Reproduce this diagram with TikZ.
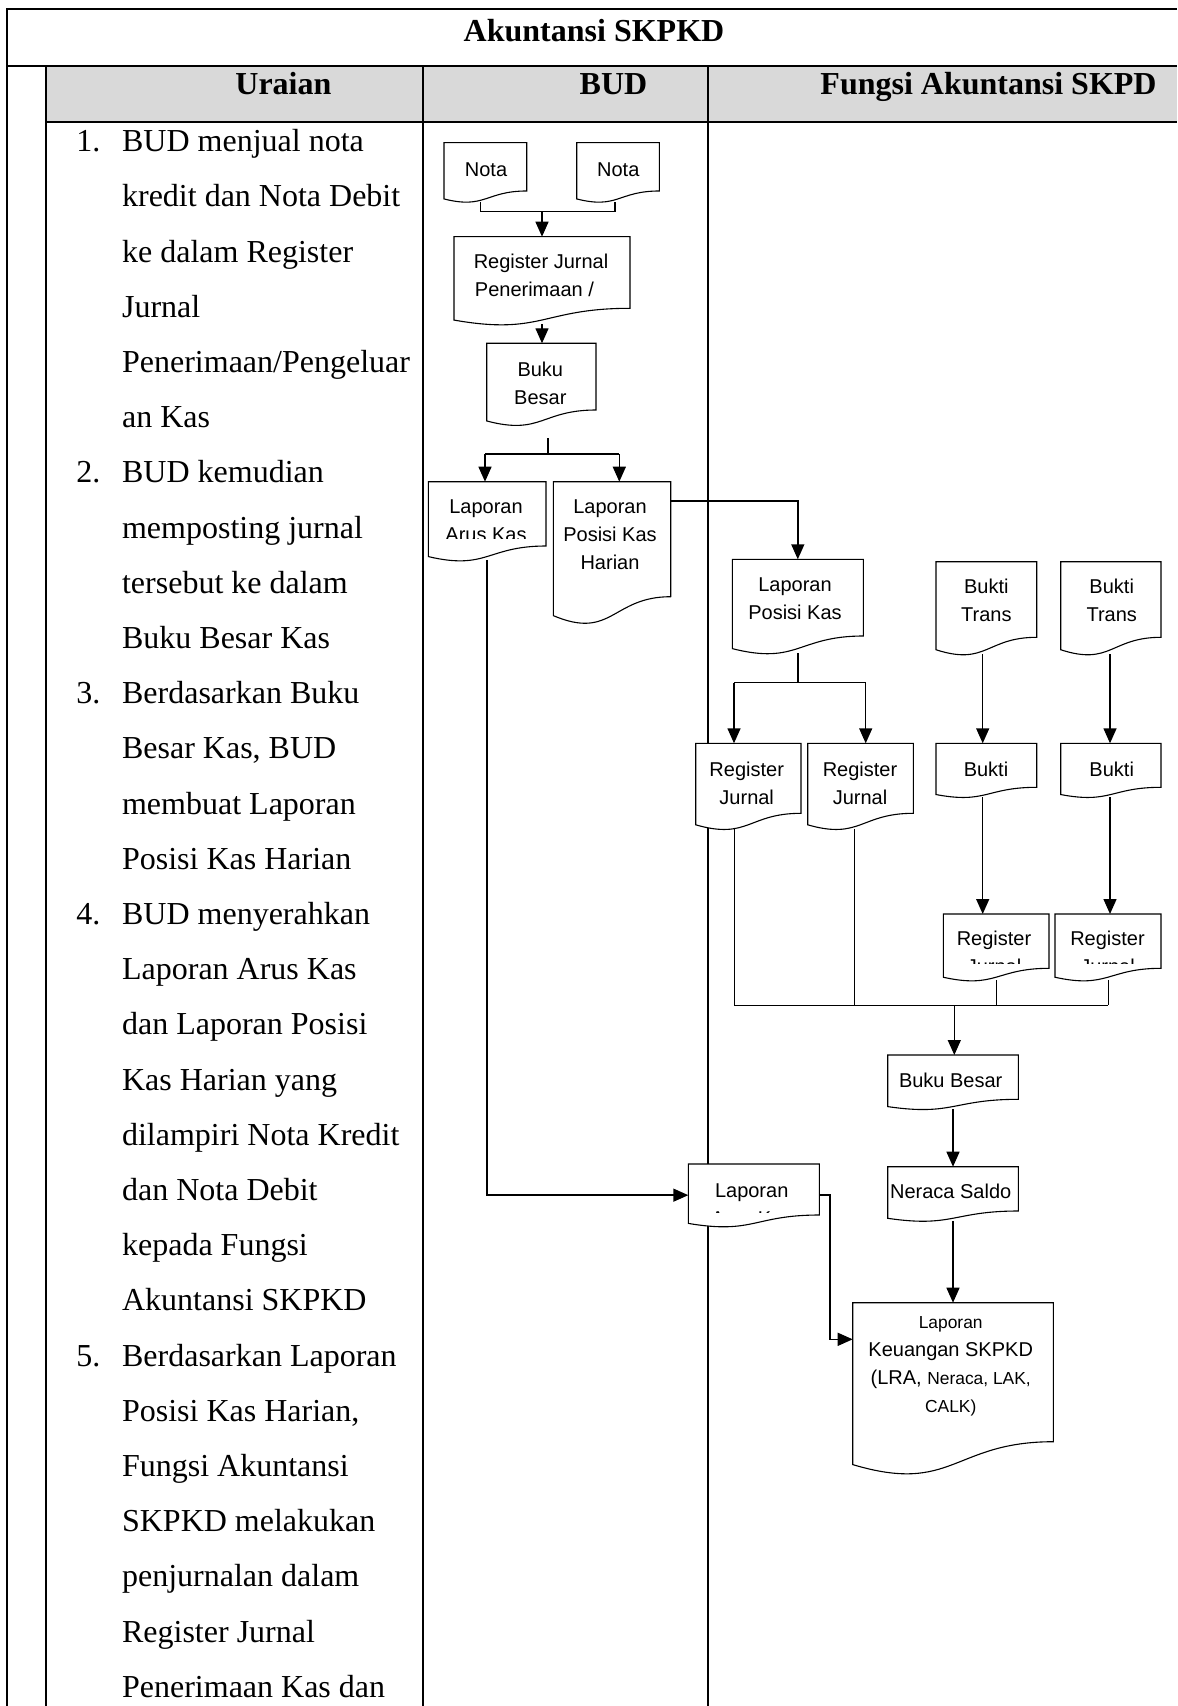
\documentclass[tikz,border=0pt]{standalone}
\usepackage{fontspec}
\setmainfont{Liberation Serif}
\newfontfamily\arialf{Liberation Sans}
\usetikzlibrary{arrows.meta,calc,fit}
\pgfdeclarelayer{gridlayer}
\pgfdeclarelayer{connlayer}
\pgfsetlayers{gridlayer,connlayer,main}
\definecolor{hdrgray}{HTML}{D9D9D9}

\tikzset{
  tbl/.style={line width=1pt},
  docline/.style={draw, line width=0.55pt, fill=white, line join=miter},
  lbl/.style={font=\arialf\fontsize{10}{14}\selectfont, align=center, inner sep=0pt},
  utext/.style={font=\fontsize{16}{27.6}\selectfont, anchor=base west, inner sep=0pt},
  htext/.style={font=\bfseries\fontsize{16}{20}\selectfont, anchor=base, inner sep=0pt},
  conn/.style={draw, line width=0.7pt},
  thinconn/.style={draw, line width=0.5pt},
  arr/.style={conn, -{Triangle[length=7.5pt,width=6.5pt]}},
}

% #1 name, #2 x left, #3 y top, #4 x right, #5 y right-bottom,
% #6 text x, #7 text y, #8 text, #9 clip y for text
\newcommand\docnode[9]{%
  \pgfmathsetmacro\docH{(#5-#3)/0.802}%
  \pgfmathsetmacro\docMX{(#2+#4)/2}%
  \path[docline] (#2,#3) -- (#4,#3) -- (#4,#5)
     .. controls (\docMX,#5) and (\docMX,{#3+1.1075*\docH}) .. (#2,{#3+0.934*\docH}) -- cycle;
  \node[fit={(#2,#3) (#4,{#3+0.98*\docH})}, inner sep=0pt, outer sep=0pt] (#1) {};
  \begin{scope}
    \clip (#2,#3) rectangle (#4,#9);
    \node[lbl] (#1-t) at (#6,#7) {#8};
  \end{scope}
}

\begin{document}
\begin{tikzpicture}[x=0.5pt,y=-0.5pt]
\useasboundingbox (0,0) rectangle (1177,1706);

% ---------- table grid ----------
\begin{pgfonlayer}{gridlayer}
  \fill[hdrgray] (45.7,65.7) rectangle (1177,121.7);
  \draw[tbl] (7.3,1706) -- (7.3,9.3) -- (1177,9.3);
  \draw[tbl] (7.3,65.7) -- (1177,65.7);
  \draw[tbl] (45.7,121.7) -- (1177,121.7);
  \draw[tbl] (45.7,65.7) -- (45.7,1706);
  \draw[tbl] (423.3,65.7) -- (423.3,1706);
  \draw[tbl] (708.3,65.7) -- (708.3,1706);
\end{pgfonlayer}

% ---------- headings ----------
\node[htext] (title) at (594,41.5) {Akuntansi SKPKD};
\node[htext] (h1) at (283.4,95) {Uraian};
\node[htext] (h2) at (613.5,95) {BUD};
\node[htext, anchor=base east] (h3) at (1157,95) {Fungsi Akuntansi SKPD};

% ---------- Uraian text ----------
\foreach \utx [count=\i from 0] in {
  BUD menjual nota, kredit dan Nota Debit, ke dalam Register, Jurnal,
  Penerimaan/Pengeluar, an Kas,
  BUD kemudian, memposting jurnal, tersebut ke dalam, Buku Besar Kas,
  Berdasarkan Buku, {Besar Kas, BUD}, membuat Laporan, Posisi Kas Harian,
  BUD menyerahkan, Laporan Arus Kas, dan Laporan Posisi, Kas Harian yang,
  dilampiri Nota Kredit, dan Nota Debit, kepada Fungsi, Akuntansi SKPKD,
  Berdasarkan Laporan, {Posisi Kas Harian,}, Fungsi Akuntansi, SKPKD melakukan,
  penjurnalan dalam, Register Jurnal, Penerimaan Kas dan}
  \node[utext] (u\i) at (121.7,{151.7+55.2*\i}) {\utx};
\foreach \n/\k in {1/0,2/6,3/10,4/14,5/22}
  \node[utext] (num\n) at (76,{151.7+55.2*\k}) {\n.};

% ---------- documents: BUD ----------
\docnode{nota1}{444}{142.7}{526.7}{191}{486}{169.3}{Nota}{260}
\docnode{nota2}{576.7}{142.7}{659.3}{191}{618.3}{169.3}{Nota}{260}
\docnode{reg}{454}{236.7}{630}{308.3}{541}{275.5}{Register Jurnal\\Penerimaan /\hspace*{6.6pt}}{400}
\docnode{bbb}{486.7}{343.3}{596}{410}{540.3}{383}{Buku\\Besar}{500}
\docnode{arus}{428.3}{481.7}{546}{546}{486}{520.8}{Laporan\\Arus Kas}{538}
\docnode{pkh}{553.3}{481.7}{670.7}{596.7}{610}{534.8}{Laporan\\Posisi Kas\\Harian}{700}

% ---------- documents: Fungsi Akuntansi ----------
\docnode{lpk}{732.3}{559.3}{863.3}{636}{795}{598.8}{Laporan\\Posisi Kas}{720}
\docnode{bt1}{936}{561.7}{1036.7}{637.3}{986.3}{600}{Bukti\\Trans}{720}
\docnode{bt2}{1060.7}{561.7}{1161}{637.3}{1111.7}{600}{Bukti\\Trans}{720}
\docnode{rj1}{695.7}{743.3}{801}{813.3}{746.7}{783}{Register\\Jurnal}{900}
\docnode{rj2}{807.7}{743.3}{913.3}{813.3}{860}{783}{Register\\Jurnal}{900}
\docnode{bk1}{936}{743.3}{1036.7}{787.3}{986}{769.3}{Bukti}{900}
\docnode{bk2}{1060.7}{743.3}{1161}{787.3}{1111.7}{769.3}{Bukti}{900}
\docnode{rl1}{943.3}{914}{1049}{968.3}{994}{952}{Register\\Jurnal}{963.5}
\docnode{rl2}{1055}{914}{1161}{968.3}{1107.5}{952}{Register\\Jurnal}{963.5}
\docnode{bbf}{887.7}{1055}{1018.3}{1099.3}{950.7}{1080}{Buku Besar}{1200}
\docnode{ns}{887.7}{1166.7}{1018.3}{1211}{950.7}{1191.7}{Neraca Saldo}{1300}
\docnode{lak}{688.3}{1164}{819.3}{1215}{751.7}{1204.5}{Laporan\\Arus Kas}{1212.5}
\docnode{lk}{852.7}{1302.7}{1053.3}{1441.7}{950.7}{1366}{\fontsize{10}{13}\selectfont
  {\fontsize{8.7}{13}\selectfont Laporan}\\Keuangan SKPKD\\(LRA, {\fontsize{8.7}{13}\selectfont Neraca, LAK,}\\{\fontsize{8.7}{13}\selectfont CALK)}}{1600}

% ---------- connectors ----------
\begin{pgfonlayer}{connlayer}
  % Nota -> Register
  \coordinate (m1a) at (480.7,211.7);
  \coordinate (m1b) at (615,211.7);
  \coordinate (m1) at (542,211.7);
  \draw[conn] (m1a |- nota1.south) -- (m1a) -- (m1b) -- (m1b |- nota2.south);
  \draw[arr] (m1) -- (m1 |- reg.north);
  % Register -> Buku Besar
  \draw[arr] (reg.south) -- (reg.south |- bbb.north);
  % Buku Besar -> Laporan
  \coordinate (s0t) at (548,438);
  \coordinate (s0) at (548,454);
  \coordinate (s1a) at (485,454);
  \coordinate (s1b) at (619.3,454);
  \draw[conn] (s0t) -- (s0);
  \draw[conn] (s1a) -- (s1b);
  \draw[arr] (s1a) -- (s1a |- arus.north);
  \draw[arr] (s1b) -- (s1b |- pkh.north);
  % Arus Kas -> Laporan Arus Kas (Fungsi)
  \draw[arr] (arus.south) |- (lak.west);
  % Posisi Kas Harian -> Laporan Posisi Kas
  \draw[arr] ($(pkh.north east)+(0,19.3)$) -| (lpk.north);
  % Laporan Posisi Kas -> Register Jurnal
  \coordinate (s2a) at (734,682.7);
  \coordinate (s2b) at (865.7,682.7);
  \draw[conn] (lpk.south) -- (lpk.south |- s2a);
  \draw[conn] (s2a) -- (s2b);
  \draw[arr] (s2a) -- (s2a |- rj1.north);
  \draw[arr] (s2b) -- (s2b |- rj2.north);
  % Bukti Trans -> Bukti -> Register
  \coordinate (c1) at (982.7,0);
  \coordinate (c2) at (1110,0);
  \draw[arr] (c1 |- bt1.south) -- (c1 |- bk1.north);
  \draw[arr] (c1 |- bk1.south) -- (c1 |- rl1.north);
  \draw[arr] (c2 |- bt2.south) -- (c2 |- bk2.north);
  \draw[arr] (c2 |- bk2.south) -- (c2 |- rl2.north);
  % Registers -> Buku Besar
  \coordinate (j) at (954.3,1005);
  \coordinate (ja) at (734,1005);
  \coordinate (jb) at (854,1005);
  \draw[thinconn] (ja |- rj1.south) -- (ja);
  \draw[thinconn] (jb |- rj2.south) -- (jb);
  \draw[thinconn] (rl1.south) -- (rl1.south |- j);
  \draw[thinconn] (rl2.south) -- (rl2.south |- j);
  \draw[thinconn] (ja) -- (rl2.south |- j);
  \draw[arr] (j) -- (j |- bbf.north);
  % Buku Besar -> Neraca Saldo -> Laporan Keuangan
  \draw[arr] (bbf.south) -- (bbf.south |- ns.north);
  \draw[arr] (ns.south) -- (ns.south |- lk.north);
  % Laporan Arus Kas -> Laporan Keuangan
  \draw[arr] (lak.east) -- ++(10.7,0) |- ($(lk.north west)+(0,36.6)$);
\end{pgfonlayer}
\end{tikzpicture}
\end{document}
